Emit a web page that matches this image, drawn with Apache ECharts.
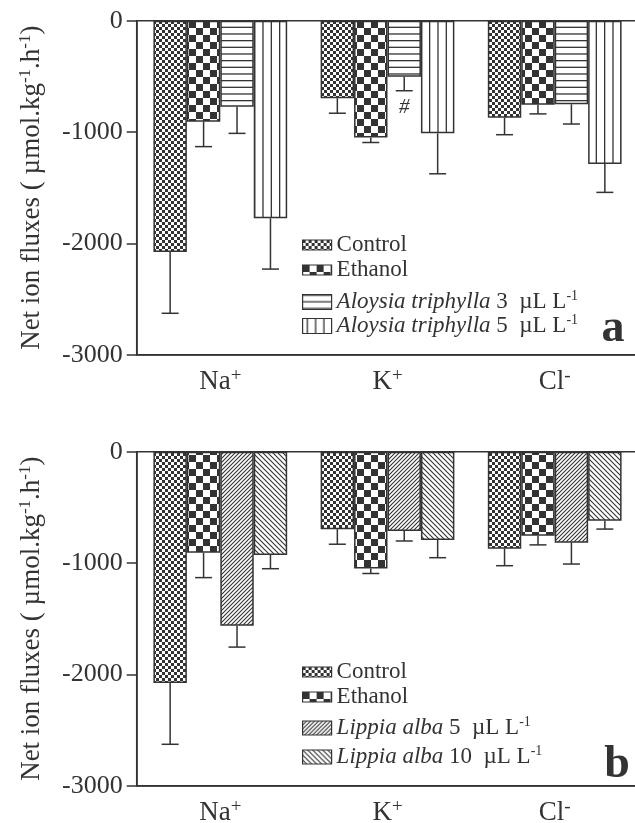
<!DOCTYPE html>
<html>
<head>
<meta charset="utf-8">
<script src="https://cdn.jsdelivr.net/npm/echarts@6/dist/echarts.min.js"></script>
<style>
  html, body { margin: 0; padding: 0; background: #fff; }
  #main { width: 635px; height: 823px; }
</style>
</head>
<body>
<div id="main"></div>
<script>
// ---- data ----
var ions = ['Na+', 'K+', 'Cl-'];
var controlMean = [-2078, -696, -871];
var controlSe = [550, 135, 153];
var ethanolMean = [-907, -1048, -756];
var ethanolSe = [224, 46, 81];
var aloysia3Mean = [-773, -503, -751];
var aloysia3Se = [239, 126, 177];
var aloysia3Marks = ['', '#', ''];
var aloysia5Mean = [-1775, -1012, -1288];
var aloysia5Se = [456, 363, 254];
var lippia5Mean = [-1563, -712, -817];
var lippia5Se = [192, 90, 192];
var lippia10Mean = [-928, -793, -620];
var lippia10Se = [123, 159, 75];
var yTicks = [-3000, -2000, -1000, 0];

var ink = '#333';
var serif = '"Liberation Serif", "DejaVu Serif", serif';

// hatch fills drawn on small canvases
function pattern(w, h, draw) {
  var c = document.createElement('canvas');
  c.width = w; c.height = h;
  var ctx = c.getContext('2d');
  ctx.fillStyle = '#fff';
  ctx.fillRect(0, 0, w, h);
  ctx.fillStyle = ink;
  ctx.strokeStyle = ink;
  draw(ctx, w, h);
  return { image: c, repeat: 'repeat' };
}
function checker(s) {
  return pattern(2 * s, 2 * s, function (ctx) {
    ctx.fillRect(0, 0, s, s);
    ctx.fillRect(s, s, s, s);
  });
}
var fillControl = checker(3);
var fillEthanol = checker(7);
var fillHoriz = pattern(4, 20, function (ctx) {
  for (var k = 0; k < 3; k++) ctx.fillRect(0, k * 20 / 3, 4, 1.3);
});
var fillVert = pattern(25, 4, function (ctx) {
  for (var k = 0; k < 3; k++) ctx.fillRect(4 + k * 25 / 3, 0, 1.3, 4);
});
function diag(p, up) {
  return pattern(2 * p, 2 * p, function (ctx, w) {
    ctx.lineWidth = 1.1;
    ctx.beginPath();
    for (var c = -w; c <= 2 * w; c += p) {
      if (up) { ctx.moveTo(c + 1, -1); ctx.lineTo(c - w - 1, w + 1); }
      else { ctx.moveTo(c - 1, -1); ctx.lineTo(c + w + 1, w + 1); }
    }
    ctx.stroke();
  });
}
var fillLippia5 = diag(4, true);
var fillLippia10 = diag(5, false);

function ionLabel(v) {
  return v.slice(0, -1) + '{sup|' + v.slice(-1) + '}';
}

var legendText = {
  'Control': 'Control',
  'Ethanol': 'Ethanol',
  'Aloysia 3': '{i|Aloysia triphylla} 3  µL L{sup|-1}',
  'Aloysia 5': '{i|Aloysia triphylla} 5  µL L{sup|-1}',
  'Lippia 5': '{i|Lippia alba} 5  µL L{sup|-1}',
  'Lippia 10': '{i|Lippia alba} 10  µL L{sup|-1}'
};

function bar(name, means, fill, gi) {
  return {
    type: 'bar', name: name, xAxisIndex: gi, yAxisIndex: gi,
    data: means, barGap: '0%', barCategoryGap: '20%',
    itemStyle: { color: fill, borderColor: ink, borderWidth: 1.5 },
    z: 2
  };
}

function errBars(means, ses, slot, gi, marks) {
  return {
    type: 'custom', xAxisIndex: gi, yAxisIndex: gi, silent: true, z: 3,
    data: means.map(function (m, i) { return [i, m, ses[i]]; }),
    encode: { x: 0, y: 1 },
    renderItem: function (params, api) {
      var i = api.value(0), m = api.value(1), e = api.value(2);
      var bw = api.size([1, 0])[0] * 0.8 / 4;
      var p0 = api.coord([i, m]);
      var p1 = api.coord([i, m - e]);
      var x = p0[0] + (slot - 1.5) * bw;
      var ls = { stroke: ink, lineWidth: 1.5 };
      var kids = [
        { type: 'line', shape: { x1: x, y1: p0[1], x2: x, y2: p1[1] }, style: ls },
        { type: 'line', shape: { x1: x - 8.5, y1: p1[1], x2: x + 8.5, y2: p1[1] }, style: ls }
      ];
      if (marks && marks[params.dataIndex]) {
        kids.push({ type: 'text', x: x, y: p1[1] + 17,
          style: { text: marks[params.dataIndex], fill: ink, align: 'center', verticalAlign: 'middle',
            font: 'italic 21px ' + serif } });
      }
      return { type: 'group', children: kids };
    }
  };
}

function grid(top) {
  return { left: 136.7, top: top, width: 501.6, height: 334, show: true,
    borderColor: ink, borderWidth: 1.5, backgroundColor: 'transparent', outerBoundsMode: 'none' };
}
function xAx(gi) {
  return {
    type: 'category', gridIndex: gi, data: ions, position: 'bottom',
    axisLine: { onZero: false, lineStyle: { color: ink, width: 1.5 } },
    axisTick: { alignWithLabel: true, length: 10, lineStyle: { color: ink, width: 1.5 } },
    axisLabel: { margin: 12, color: ink, fontFamily: serif, fontSize: 27, lineHeight: 30,
      formatter: ionLabel,
      rich: { sup: { fontSize: 19, fontFamily: serif, color: ink, verticalAlign: 'top', lineHeight: 15 } } },
    splitLine: { show: false }
  };
}
function yAx(gi) {
  return {
    type: 'value', gridIndex: gi, min: yTicks[0], max: yTicks[yTicks.length - 1], interval: yTicks[1] - yTicks[0],
    axisLine: { show: true, lineStyle: { color: ink, width: 1.5 } },
    axisTick: { show: true, length: 10, lineStyle: { color: ink, width: 1.5 } },
    axisLabel: { margin: 14, color: ink, fontFamily: serif, fontSize: 26,
      formatter: function (v) { return String(v); } },
    splitLine: { show: false },
    name: 'Net ion fluxes ( µmol.kg{sup|-1}.h{sup|-1})',
    nameLocation: 'middle', nameGap: 90, nameRotate: 90,
    nameTextStyle: { color: ink, fontFamily: serif, fontSize: 27, lineHeight: 30,
      rich: { sup: { fontSize: 17, fontFamily: serif, color: ink, verticalAlign: 'top', lineHeight: 17 } } }
  };
}
function legendItem(name, centerY, h) {
  return {
    data: [{ name: name, icon: 'rect' }], left: 302, top: centerY - 13, orient: 'vertical', padding: 0,
    itemWidth: 29, itemHeight: h, selectedMode: false,
    itemStyle: { borderColor: ink, borderWidth: 1.2 },
    formatter: function (n) { return legendText[n]; },
    textStyle: { color: ink, fontFamily: serif, fontSize: 23, lineHeight: 26,
      rich: {
        i: { fontStyle: 'italic', fontFamily: serif, fontSize: 23, color: ink, lineHeight: 26 },
        sup: { fontSize: 14, fontFamily: serif, color: ink, verticalAlign: 'top', lineHeight: 14 }
      } }
  };
}

var chart = echarts.init(document.getElementById('main'));
chart.setOption({
  animation: false,
  backgroundColor: '#fff',
  grid: [grid(20.7), grid(451.7)],
  xAxis: [xAx(0), xAx(1)],
  yAxis: [yAx(0), yAx(1)],
  legend: [
    legendItem('Control', 245, 10), legendItem('Ethanol', 270, 10),
    legendItem('Aloysia 3', 302, 15), legendItem('Aloysia 5', 326, 15),
    legendItem('Control', 672, 10), legendItem('Ethanol', 697, 10),
    legendItem('Lippia 5', 728, 14), legendItem('Lippia 10', 757, 14)
  ],
  graphic: [
    { type: 'text', x: 613, y: 352, style: { text: 'a', font: 'bold 46px ' + serif, fill: ink, align: 'center', verticalAlign: 'bottom' } },
    { type: 'text', x: 617, y: 788, style: { text: 'b', font: 'bold 46px ' + serif, fill: ink, align: 'center', verticalAlign: 'bottom' } }
  ],
  series: [
    bar('Control', controlMean, fillControl, 0),
    bar('Ethanol', ethanolMean, fillEthanol, 0),
    bar('Aloysia 3', aloysia3Mean, fillHoriz, 0),
    bar('Aloysia 5', aloysia5Mean, fillVert, 0),
    errBars(controlMean, controlSe, 0, 0),
    errBars(ethanolMean, ethanolSe, 1, 0),
    errBars(aloysia3Mean, aloysia3Se, 2, 0, aloysia3Marks),
    errBars(aloysia5Mean, aloysia5Se, 3, 0),
    bar('Control', controlMean, fillControl, 1),
    bar('Ethanol', ethanolMean, fillEthanol, 1),
    bar('Lippia 5', lippia5Mean, fillLippia5, 1),
    bar('Lippia 10', lippia10Mean, fillLippia10, 1),
    errBars(controlMean, controlSe, 0, 1),
    errBars(ethanolMean, ethanolSe, 1, 1),
    errBars(lippia5Mean, lippia5Se, 2, 1),
    errBars(lippia10Mean, lippia10Se, 3, 1)
  ]
});
</script>
</body>
</html>
